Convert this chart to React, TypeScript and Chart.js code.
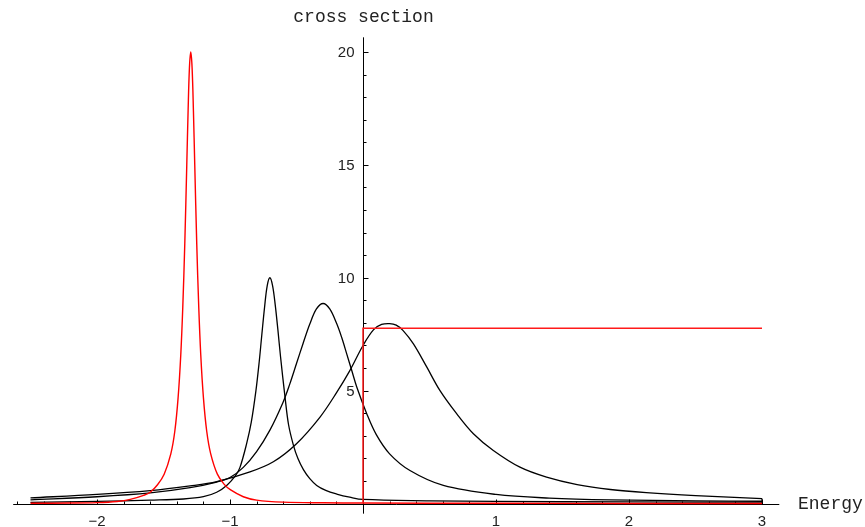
import React, { useEffect, useRef } from "react";
import { Chart, registerables } from "chart.js";

Chart.register(...registerables);

// ---- data ----
const redPeakX = [-2.5, -2.2, -2.0, -1.85, -1.75, -1.65, -1.6, -1.545, -1.495, -1.445, -1.415, -1.39, -1.37, -1.355, -1.34, -1.325, -1.315, -1.305, -1.295, -1.285, -1.275, -1.265, -1.25, -1.235, -1.22, -1.2, -1.175, -1.145, -1.095, -1.045, -0.995, -0.9, -0.8, -0.6, -0.3, 0, 1, 2, 3];
const redPeakY = [0.01, 0.02, 0.04, 0.09, 0.18, 0.36, 0.5, 0.83, 1.3, 2.2, 3.2, 4.7, 6.6, 8.7, 11.5, 15.0, 17.4, 19.3, 20.0, 19.3, 17.4, 15.0, 11.5, 8.7, 6.6, 4.7, 3.2, 2.2, 1.3, 0.86, 0.6, 0.3, 0.15, 0.06, 0.03, 0.02, 0.01, 0.0, 0.0];

const redStepX = [0, 0, 3];
const redStepY = [0, 7.76, 7.76];

const narrowX = [-2.5, -2.0, -1.6, -1.35, -1.2, -1.1, -1.025, -0.96, -0.925, -0.875, -0.84, -0.805, -0.78, -0.762, -0.74, -0.72, -0.7, -0.68, -0.66, -0.64, -0.62, -0.586, -0.56, -0.524, -0.49, -0.448, -0.4, -0.348, -0.28, -0.198, -0.1, 0, 0.5, 1, 2, 3];
const narrowY = [0.05, 0.09, 0.15, 0.2, 0.3, 0.5, 0.8, 1.22, 1.6, 2.65, 3.6, 5.0, 6.3, 7.4, 8.7, 9.65, 10.0, 9.65, 8.8, 7.7, 6.5, 4.7, 3.5, 2.6, 2.0, 1.5, 1.1, 0.8, 0.58, 0.42, 0.28, 0.18, 0.12, 0.09, 0.07, 0.06];

const middleX = [-2.5, -2.0, -1.6, -1.3, -1.1, -1.0, -0.9, -0.8, -0.7, -0.6, -0.55, -0.5, -0.45, -0.4, -0.35, -0.3, -0.25, -0.198, -0.16, -0.123, -0.085, -0.047, 0.028, 0.1, 0.2, 0.353, 0.604, 1.0, 1.4, 1.86, 2.5, 3.0];
const middleY = [0.16, 0.3, 0.47, 0.7, 0.95, 1.15, 1.6, 2.3, 3.25, 4.5, 5.3, 6.2, 7.1, 7.95, 8.62, 8.86, 8.62, 7.97, 7.35, 6.64, 5.9, 5.16, 3.98, 3.05, 2.2, 1.46, 0.8, 0.4, 0.24, 0.16, 0.12, 0.1];

const wideX = [-2.5, -2.0, -1.6, -1.3, -1.1, -0.85, -0.674, -0.5, -0.323, -0.2, -0.098, 0, 0.08, 0.14, 0.2, 0.25, 0.3, 0.378, 0.479, 0.579, 0.704, 0.83, 0.98, 1.18, 1.38, 1.61, 1.86, 2.13, 2.5, 3.0];
const wideY = [0.25, 0.4, 0.57, 0.78, 0.97, 1.4, 1.85, 2.65, 3.83, 4.9, 5.9, 7.0, 7.7, 7.93, 7.97, 7.9, 7.67, 7.08, 6.05, 5.0, 3.98, 3.09, 2.35, 1.61, 1.17, 0.84, 0.62, 0.48, 0.35, 0.22];

const closeX = [3, 3];
const closeY = [0.22, 0];

const xTickLabels = [-2, -1, 1, 2, 3];
const yTickLabels = [5, 10, 15, 20];
const xAxisTitle = "Energy";
const yAxisTitle = "cross section";

const toPoints = (xs: number[], ys: number[]) => xs.map((x, i) => ({ x, y: ys[i] }));

const axesPlugin = {
  id: "mmaAxes",
  beforeDatasetsDraw(chart: any) {
    const { ctx, scales } = chart;
    const sx = scales.x;
    const sy = scales.y;
    const px = (v: number) => sx.getPixelForValue(v);
    const py = (v: number) => sy.getPixelForValue(v);
    const x0 = Math.round(px(0)) + 0.5;
    const y0 = Math.round(py(0)) + 0.5;
    ctx.save();
    ctx.strokeStyle = "#000";
    ctx.lineWidth = 1;
    ctx.beginPath();
    ctx.moveTo(px(-2.63), y0);
    ctx.lineTo(px(3.13), y0);
    ctx.moveTo(x0, py(-0.45));
    ctx.lineTo(x0, py(20.65));
    for (let i = -13; i <= 15; i++) {
      if (i === 0) continue;
      const v = i * 0.2;
      const major = i % 5 === 0;
      const xx = Math.round(px(v)) + 0.5;
      ctx.moveTo(xx, y0);
      ctx.lineTo(xx, y0 - (major ? 5 : 3));
    }
    for (let v = 1; v <= 20; v++) {
      const major = v % 5 === 0;
      const yy = Math.round(py(v)) + 0.5;
      ctx.moveTo(x0, yy);
      ctx.lineTo(x0 + (major ? 5 : 3), yy);
    }
    ctx.stroke();

    ctx.fillStyle = "#222";
    ctx.font = "15px 'Liberation Sans', Arial, sans-serif";
    ctx.textAlign = "center";
    ctx.textBaseline = "middle";
    xTickLabels.forEach((v) => {
      const label = v < 0 ? "\u2212" + Math.abs(v) : String(v);
      ctx.fillText(label, px(v), y0 + 17);
    });
    ctx.textAlign = "right";
    yTickLabels.forEach((v) => {
      ctx.fillText(String(v), x0 - 9, py(v) + 1);
    });

    ctx.font = "18px 'Liberation Mono', 'Courier New', monospace";
    ctx.textAlign = "center";
    ctx.fillText(yAxisTitle, x0, 17);
    ctx.textAlign = "left";
    ctx.fillText(xAxisTitle, 798, y0);
    ctx.restore();
  },
};

export default function App() {
  const canvasRef = useRef<HTMLCanvasElement | null>(null);

  useEffect(() => {
    const canvas = canvasRef.current;
    if (!canvas) return;
    const common = {
      showLine: true,
      pointRadius: 0,
      fill: false,
      clip: false as any,
    };
    const smooth = { tension: 0.35 };
    const chart = new Chart(canvas, {
      type: "scatter",
      data: {
        datasets: [
          { ...common, label: "red step", data: toPoints(redStepX, redStepY), borderColor: "#ff1a1a", borderWidth: 1.5, tension: 0 },
          { ...common, ...smooth, label: "red peak", data: toPoints(redPeakX, redPeakY), borderColor: "#ff0000", borderWidth: 1.4 },
          { ...common, ...smooth, label: "narrow", data: toPoints(narrowX, narrowY), borderColor: "#000", borderWidth: 1.3 },
          { ...common, ...smooth, label: "middle", data: toPoints(middleX, middleY), borderColor: "#000", borderWidth: 1.3 },
          { ...common, ...smooth, label: "wide", data: toPoints(wideX, wideY), borderColor: "#000", borderWidth: 1.3 },
          { ...common, label: "close", data: toPoints(closeX, closeY), borderColor: "#000", borderWidth: 1.2, tension: 0 },
        ],
      },
      options: {
        animation: false,
        responsive: false,
        maintainAspectRatio: false,
        layout: { padding: { left: 30.5, right: 103, top: 52, bottom: 23.5 } },
        plugins: { legend: { display: false }, tooltip: { enabled: false }, title: { display: false } },
        scales: {
          x: { type: "linear", min: -2.5, max: 3, display: false },
          y: { type: "linear", min: 0, max: 20, display: false },
        },
      } as any,
      plugins: [axesPlugin],
    });
    return () => chart.destroy();
  }, []);

  return (
    <div style={{ position: "fixed", left: 0, top: 0, width: 865, height: 527, background: "#fff" }}>
      <canvas ref={canvasRef} width={865} height={527} style={{ display: "block", width: 865, height: 527 }} />
    </div>
  );
}
